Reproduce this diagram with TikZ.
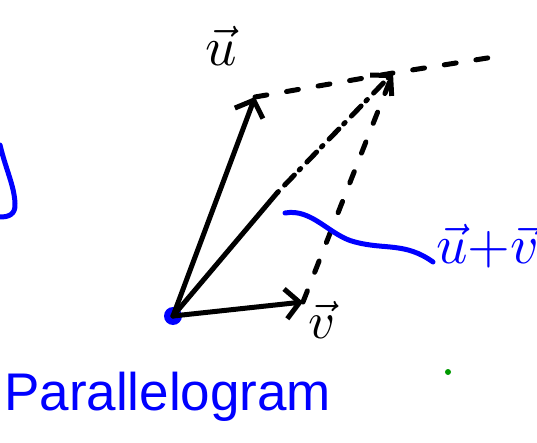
\documentclass[tikz,border=0pt]{standalone}
\usepackage{fontspec}
\setmainfont{Liberation Sans}
\usetikzlibrary{positioning,arrows.meta,calc}

\begin{document}
\begin{tikzpicture}[x=1pt, y=-1pt, line cap=round, line join=round,
  vec/.style={line width=5pt, -{Straight Barb[length=14pt,width=30pt,line width=5pt]}},
  aux/.style={line width=5pt, dash pattern=on 12pt off 20pt},
  ink/.style={blue, line width=5pt},
  dot/.style={circle, inner sep=0pt},
  lbl/.style={inner sep=0pt}]
\useasboundingbox (0,0) rectangle (537,443);
\node[dot, fill=blue, minimum size=18pt] (O) at (173,316) {};
\coordinate (utip) at (255,97);
\coordinate (vtip) at (303,302);
\coordinate (stip) at (393,73);
\coordinate (smid) at (277,193);
\coordinate (far) at (500,56);
\coordinate (wstart) at (285,213);
\coordinate (wend) at (433,262);
\node[lbl] (ulbl) at (221,46) {\scalebox{5.5}{$\vec{u}$}};
\node[lbl] (vlbl) at (322,320) {\scalebox{5.2}{$\vec{v}$}};
\node[lbl, blue, anchor=west] (slbl) at (436,246) {\scalebox{5.5}{$\vec{u}{+}\vec{v}$}};
\node[inner sep=0pt, blue, anchor=base west, font=\fontsize{53}{53}\selectfont] (name) at (4,410) {Parallelogram};
\node[dot, fill=green!60!black, minimum size=6pt] (gdot) at (448,372) {};
\draw[vec] (O.center) -- (utip);
\draw[vec] (O.center) -- (vtip);
\draw[line width=5pt] (O.center) -- (smid);
\draw[vec, dash pattern=on 2pt off 9pt on 14pt off 7pt] (smid) -- (stip);
\draw[aux] (utip) -- (stip) -- (far);
\draw[aux] (vtip) -- (stip);
\draw[ink] (wstart) .. controls (312,208) and (330,236) .. (355,242)
  .. controls (385,250) and (405,242) .. (wend);
% stroke at the left edge
\draw[ink] (0,145) .. controls (6,170) and (14,185) .. (15,203)
  .. controls (16,215) and (8,217) .. (0,217);
\end{tikzpicture}
\end{document}
